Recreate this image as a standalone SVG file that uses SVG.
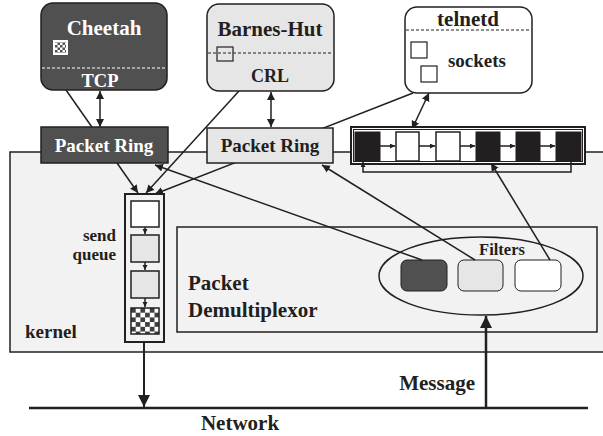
<svg xmlns="http://www.w3.org/2000/svg" width="603" height="436" viewBox="0 0 603 436">
<defs>
<style>
text{font-family:"Liberation Serif","Times New Roman",serif;font-weight:bold;fill:#231f20}
.w{fill:#fff}
.m{text-anchor:middle}
.ln{stroke:#231f20;stroke-width:1.5;fill:none}
.box{stroke:#231f20;stroke-width:1.5}
.dark{fill:#505050}
.light{fill:#e6e6e6}
.white{fill:#fff}
.blk{fill:#231f20;stroke:#231f20;stroke-width:1}
.flt{stroke:#231f20;stroke-width:1}
</style>
<marker id="ah" markerWidth="10" markerHeight="10" refX="8" refY="4" orient="auto-start-reverse" markerUnits="userSpaceOnUse"><path d="M0,0L8,4L0,8z" fill="#231f20"/></marker>
<marker id="sm" markerWidth="6" markerHeight="6" refX="5" refY="2.5" orient="auto" markerUnits="userSpaceOnUse"><path d="M0,0L5,2.5L0,5z" fill="#231f20"/></marker>
<marker id="big" markerWidth="14" markerHeight="14" refX="12" refY="6" orient="auto" markerUnits="userSpaceOnUse"><path d="M0,0L12,6L0,12z" fill="#231f20"/></marker>
<pattern id="chk1" width="5" height="5" patternUnits="userSpaceOnUse"><rect width="5" height="5" fill="#fff"/><rect width="2.5" height="2.5" fill="#505050"/><rect x="2.5" y="2.5" width="2.5" height="2.5" fill="#505050"/></pattern>
<pattern id="chk2" x="131" y="308" width="9.4" height="9.4" patternUnits="userSpaceOnUse"><rect width="9.4" height="9.4" fill="#fff"/><rect width="4.7" height="4.7" fill="#404040"/><rect x="4.7" y="4.7" width="4.7" height="4.7" fill="#404040"/></pattern>
</defs>
<rect width="603" height="436" fill="#fff"/>
<g id="kernel">
<rect x="10" y="152" width="600" height="200" fill="#f2f2f2" stroke="#231f20" stroke-width="1.5"/>
<text x="25" y="338" font-size="19">kernel</text>
</g>
<g id="demux">
<rect x="177" y="227" width="420" height="105" fill="none" stroke="#231f20" stroke-width="1.5"/>
<text x="188" y="290" font-size="21">Packet</text>
<text x="188" y="317" font-size="21">Demultiplexor</text>
<ellipse cx="481" cy="276" rx="102" ry="39" fill="none" stroke="#231f20" stroke-width="1.5"/>
<text x="502" y="255" font-size="16.5" class="m">Filters</text>
</g>
<g id="filters">
<rect class="flt dark" x="401" y="260" width="46" height="31" rx="6"/>
<rect class="flt light" x="458" y="260" width="45" height="31" rx="6"/>
<rect class="flt white" x="515" y="260" width="46" height="31" rx="6"/>
</g>
<g id="connectors">
<path class="ln" d="M66,90L138,193" marker-end="url(#ah)"/>
<path class="ln" d="M239,91L146,193" marker-end="url(#ah)"/>
<path class="ln" d="M413,93L155,194" marker-end="url(#ah)"/>
<path class="ln" d="M100,91L100,127" marker-start="url(#ah)" marker-end="url(#ah)"/>
<path class="ln" d="M271,92L271,127" marker-start="url(#ah)" marker-end="url(#ah)"/>
<path class="ln" d="M429,93L412,129" marker-start="url(#ah)" marker-end="url(#ah)"/>
<path class="ln" d="M422,260L155,165" marker-end="url(#ah)"/>
<path class="ln" d="M475,260L322,165" marker-end="url(#ah)"/>
<path class="ln" d="M550,260L491,163" marker-end="url(#ah)"/>
<path d="M486,408L486,316" stroke="#231f20" stroke-width="2.5" fill="none" marker-end="url(#big)"/>
<path d="M144,342L144,407" stroke="#231f20" stroke-width="2" fill="none" marker-end="url(#big)"/>
<path d="M29,408L588,408" stroke="#231f20" stroke-width="2.5"/>
</g>
<g id="cheetah">
<rect class="box dark" x="41" y="3" width="126" height="87" rx="12"/>
<text class="w m" x="104" y="35" font-size="21">Cheetah</text>
<rect x="53" y="40" width="15" height="15" fill="#fff"/>
<rect x="55" y="42" width="11" height="11" fill="url(#chk1)"/>
<path d="M42,68L166,68" stroke="#fff" stroke-width="1.2" stroke-dasharray="3,2"/>
<text class="w m" x="100" y="87" font-size="18.5">TCP</text>
</g>
<g id="barnes">
<rect class="box light" x="207" y="4" width="127" height="87" rx="12"/>
<text class="m" x="270" y="36" font-size="21">Barnes-Hut</text>
<path d="M208,53L333,53" stroke="#231f20" stroke-width="1.2" stroke-dasharray="3,2"/>
<rect x="217" y="47" width="16" height="14" fill="none" stroke="#231f20" stroke-width="1.2"/>
<text class="m" x="270" y="82" font-size="18">CRL</text>
</g>
<g id="telnetd">
<rect class="box white" x="405" y="7" width="127" height="86" rx="12"/>
<text class="m" x="468" y="26" font-size="21">telnetd</text>
<path d="M406,30L531,30" stroke="#231f20" stroke-width="1.2" stroke-dasharray="3,2"/>
<rect x="411" y="42" width="16" height="16" fill="#fff" stroke="#231f20" stroke-width="1.2"/>
<rect x="421" y="66" width="16" height="16" fill="#fff" stroke="#231f20" stroke-width="1.2"/>
<text class="m" x="477" y="67" font-size="19">sockets</text>
</g>
<g id="ring1">
<rect class="box dark" x="41" y="127" width="127" height="36"/>
<text class="w m" x="104" y="152" font-size="19">Packet Ring</text>
</g>
<g id="ring2">
<rect class="box light" x="207" y="128" width="126" height="35"/>
<text class="m" x="270" y="152" font-size="19">Packet Ring</text>
</g>
<g id="ring3">
<rect x="351" y="127" width="234" height="37" fill="#fff" stroke="#231f20" stroke-width="2"/>
<rect x="353.5" y="129.5" width="229" height="32" fill="none" stroke="#231f20" stroke-width="1"/>
<rect class="blk" x="355" y="132" width="25" height="29"/>
<rect x="396" y="132" width="23" height="29" fill="#fff" stroke="#231f20" stroke-width="1.5"/>
<rect x="436" y="132" width="24" height="29" fill="#fff" stroke="#231f20" stroke-width="1.5"/>
<rect class="blk" x="476" y="132" width="24" height="29"/>
<rect class="blk" x="516" y="132" width="24" height="29"/>
<rect class="blk" x="556" y="132" width="25" height="29"/>
<path class="ln" stroke-width="1" d="M380,146L395,146" marker-end="url(#sm)"/>
<path class="ln" stroke-width="1" d="M419,146L435,146" marker-end="url(#sm)"/>
<path class="ln" stroke-width="1" d="M460,146L475,146" marker-end="url(#sm)"/>
<path class="ln" stroke-width="1" d="M500,146L515,146" marker-end="url(#sm)"/>
<path class="ln" stroke-width="1" d="M540,146L555,146" marker-end="url(#sm)"/>
<path class="ln" stroke-width="1" d="M571,161L571,172L363,172L363,162" marker-end="url(#sm)"/>
</g>
<g id="sendqueue">
<rect x="125" y="194" width="39" height="148" fill="#f2f2f2" stroke="#231f20" stroke-width="2"/>
<rect class="box white" x="131" y="201" width="28" height="26"/>
<rect class="box light" x="131" y="235" width="28" height="27"/>
<rect class="box light" x="131" y="271" width="28" height="27"/>
<rect x="131" y="308" width="28" height="26" fill="url(#chk2)" stroke="#231f20" stroke-width="1.5"/>
<path class="ln" stroke-width="1" d="M145,227L145,234" marker-end="url(#sm)"/>
<path class="ln" stroke-width="1" d="M145,262L145,270" marker-end="url(#sm)"/>
<path class="ln" stroke-width="1" d="M145,298L145,307" marker-end="url(#sm)"/>
<text x="116" y="241" font-size="17" text-anchor="end">send</text>
<text x="116" y="260" font-size="17" text-anchor="end">queue</text>
</g>
<g id="labels">
<text x="475" y="390" font-size="21" text-anchor="end">Message</text>
<text class="m" x="240" y="430" font-size="21">Network</text>
</g>
</svg>
